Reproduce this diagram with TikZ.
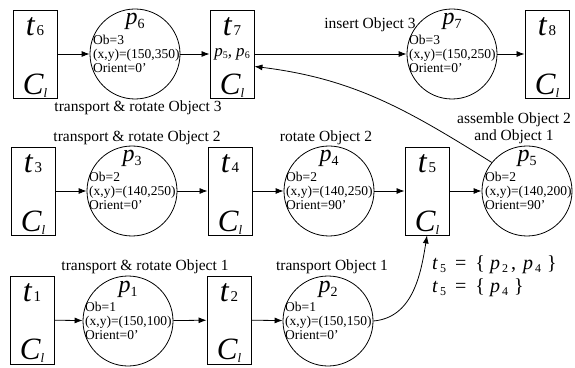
\documentclass[tikz,border=0pt]{standalone}
\usepackage{fontspec}
\setmainfont{Liberation Serif}
\usepackage{tikz}
\usetikzlibrary{arrows.meta, positioning, calc}
\newcommand{\sublab}[3]{\raisebox{#2}{\fontsize{#1}{#1}\selectfont\upshape #3}}

\begin{document}
\begin{tikzpicture}[x=1pt,y=1pt,
  tbox/.style={draw, line width=0.9pt, minimum width=44pt, minimum height=88pt, inner sep=0pt},
  place/.style={draw, circle, line width=0.8pt, minimum size=90pt, inner sep=0pt},
  tlab/.style={anchor=base, inner sep=0pt, font=\fontsize{32}{32}\selectfont\itshape},
  clab/.style={anchor=base, inner sep=0pt, font=\fontsize{31}{31}\selectfont\itshape},
  plab/.style={anchor=base, inner sep=0pt, font=\fontsize{24}{24}\selectfont\itshape},
  info/.style={anchor=west, align=left, inner sep=0pt, font=\fontsize{13.5}{14}\selectfont},
  note/.style={align=center, inner sep=0pt, font=\fontsize{15.5}{17}\selectfont},
  eqn/.style={anchor=west, inner sep=0pt, font=\fontsize{20}{20}\selectfont},
  arr/.style={-{Latex[length=8pt,width=6pt]}, line width=0.8pt}]
  \useasboundingbox (0,0) rectangle (575,367);
  % top row
  \node[tbox] (t6) at (35,313) {};
  \node[tlab] (t6-t) at ([yshift=-26pt]t6.north) {t\kern2pt\sublab{15}{0pt}{6}};
  \node[clab] (t6-c) at ([yshift=4pt]t6.south) {C\sublab{13}{-3pt}{\itshape l}};
  \node[place] (p6) at (135,313) {};
  \node[plab] (p6-p) at ([yshift=29pt]p6.center) {p\sublab{14}{-4pt}{6}};
  \node[info] (p6-i) at ([xshift=-42pt]p6.center) {Ob=3\\(x,y)=(150,350)\\Orient=0’};
  \node[tbox] (t7) at (232,313) {};
  \node[tlab] (t7-t) at ([yshift=-26pt]t7.north) {t\kern2pt\sublab{15}{0pt}{7}};
  \node[inner sep=0pt, font=\fontsize{17}{17}\selectfont\itshape] (t7-m) at (t7.center)
    {p\sublab{10}{-2pt}{5}, p\sublab{10}{-2pt}{6}};
  \node[clab] (t7-c) at ([yshift=4pt]t7.south) {C\sublab{13}{-3pt}{\itshape l}};
  \node[place] (p7) at (452,313) {};
  \node[plab] (p7-p) at ([yshift=29pt]p7.center) {p\sublab{14}{-4pt}{7}};
  \node[info] (p7-i) at ([xshift=-43pt]p7.center) {Ob=3\\(x,y)=(150,250)\\Orient=0’};
  \node[tbox] (t8) at (547,313) {};
  \node[tlab] (t8-t) at ([yshift=-26pt]t8.north) {t\kern2pt\sublab{15}{0pt}{8}};
  \node[clab] (t8-c) at ([yshift=4pt]t8.south) {C\sublab{13}{-3pt}{\itshape l}};
  % middle row
  \node[tbox] (t3) at (33,176) {};
  \node[tlab] (t3-t) at ([yshift=-26pt]t3.north) {t\kern2pt\sublab{15}{0pt}{3}};
  \node[clab] (t3-c) at ([yshift=4pt]t3.south) {C\sublab{13}{-3pt}{\itshape l}};
  \node[place] (p3) at (132,176) {};
  \node[plab] (p3-p) at ([yshift=29pt]p3.center) {p\sublab{14}{-4pt}{3}};
  \node[info] (p3-i) at ([xshift=-43pt]p3.center) {Ob=2\\(x,y)=(140,250)\\Orient=0’};
  \node[tbox] (t4) at (230,176) {};
  \node[tlab] (t4-t) at ([yshift=-26pt]t4.north) {t\kern2pt\sublab{15}{0pt}{4}};
  \node[clab] (t4-c) at ([yshift=4pt]t4.south) {C\sublab{13}{-3pt}{\itshape l}};
  \node[place] (p4) at (329,176) {};
  \node[plab] (p4-p) at ([yshift=29pt]p4.center) {p\sublab{14}{-4pt}{4}};
  \node[info] (p4-i) at ([xshift=-43pt]p4.center) {Ob=2\\(x,y)=(140,250)\\Orient=90’};
  \node[tbox] (t5) at (427,176) {};
  \node[tlab] (t5-t) at ([yshift=-26pt]t5.north) {t\kern2pt\sublab{15}{0pt}{5}};
  \node[clab] (t5-c) at ([yshift=4pt]t5.south) {C\sublab{13}{-3pt}{\itshape l}};
  \node[place] (p5) at (527,176) {};
  \node[plab] (p5-p) at ([yshift=29pt]p5.center) {p\sublab{14}{-4pt}{5}};
  \node[info] (p5-i) at ([xshift=-42pt]p5.center) {Ob=2\\(x,y)=(140,200)\\Orient=90’};
  % bottom row
  \node[tbox] (t1) at (32,47) {};
  \node[tlab] (t1-t) at ([yshift=-26pt]t1.north) {t\kern2pt\sublab{15}{0pt}{1}};
  \node[clab] (t1-c) at ([yshift=5pt]t1.south) {C\sublab{13}{-3pt}{\itshape l}};
  \node[place] (p1) at (128,46) {};
  \node[plab] (p1-p) at ([yshift=29pt]p1.center) {p\sublab{14}{-4pt}{1}};
  \node[info] (p1-i) at ([xshift=-43pt]p1.center) {Ob=1\\(x,y)=(150,100)\\Orient=0’};
  \node[tbox] (t2) at (229,47) {};
  \node[tlab] (t2-t) at ([yshift=-26pt]t2.north) {t\kern2pt\sublab{15}{0pt}{2}};
  \node[clab] (t2-c) at ([yshift=5pt]t2.south) {C\sublab{13}{-3pt}{\itshape l}};
  \node[place] (p2) at (328,46) {};
  \node[plab] (p2-p) at ([yshift=29pt]p2.center) {p\sublab{14}{-4pt}{2}};
  \node[info] (p2-i) at ([xshift=-43pt]p2.center) {Ob=1\\(x,y)=(150,150)\\Orient=0’};
  % action labels
  \node[note] (n3) at (138,259) {transport \& rotate Object 3};
  \node[note] (n7) at (370,342) {insert Object 3};
  \node[note] (n2) at (137,229) {transport \& rotate Object 2};
  \node[note] (n4) at (326,229) {rotate Object 2};
  \node[note] (n5) at (514,239) {assemble Object 2\\and Object 1};
  \node[note] (n1) at (145,100) {transport \& rotate Object 1};
  \node[note] (n0) at (332,100) {transport Object 1};
  \node[eqn] (eq1) at (432,102)
    {\textit{t}\kern2pt\sublab{12}{-3pt}{5}\kern9pt=\kern9pt\{\kern5pt\textit{p}\kern2pt\sublab{12}{-3pt}{2}\kern3pt,\kern7pt\textit{p}\kern2pt\sublab{12}{-3pt}{4}\kern6pt\}};
  \node[eqn] (eq2) at (432,79)
    {\textit{t}\kern2pt\sublab{12}{-3pt}{5}\kern9pt=\kern9pt\{\kern5pt\textit{p}\kern2pt\sublab{12}{-3pt}{4}\kern6pt\}};
  % arcs
  \draw[arr] (t6) -- (p6);
  \draw[arr] (p6) -- (t7);
  \draw[arr] (t7) -- (p7);
  \draw[arr] (p7) -- (t8);
  \draw[arr] (t3) -- (p3);
  \draw[arr] (p3) -- (t4);
  \draw[arr] (t4) -- (p4);
  \draw[arr] (p4) -- (t5);
  \draw[arr] (t5) -- (p5);
  \draw[arr] (t1) -- (p1);
  \draw[arr] (p1) -- (t2);
  \draw[arr] (t2) -- (p2);
  \draw[arr] (p2.east) to[out=5, in=-99] (t5.south);
  \draw[arr] (p5.141) to[out=148, in=-7] (t7.-29);
\end{tikzpicture}
\end{document}
